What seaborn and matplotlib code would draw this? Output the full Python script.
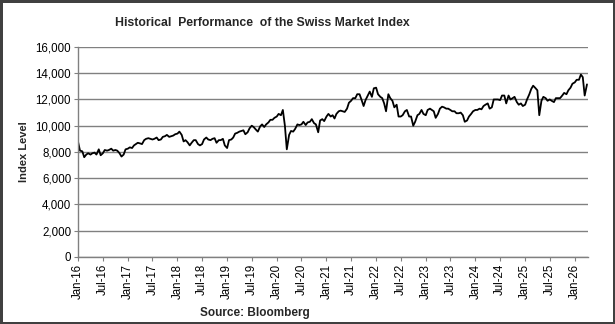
import matplotlib
matplotlib.use("Agg")
import matplotlib.pyplot as plt
import matplotlib.dates as mdates
import matplotlib.ticker as mticker
import pandas as pd
import seaborn as sns

# ---- data (semi-monthly readings, approximate) ----
values_2016 = [8750, 8100, 8050, 7600, 7800, 7900, 7800, 7900, 7950, 7800, 8200, 7750,
               7900, 8150, 8100, 8150, 8250, 8100, 8150, 8100, 7900, 7650, 7800, 8200]
values_2017 = [8250, 8350, 8300, 8500, 8600, 8700, 8650, 8600, 8900, 9000, 9050, 9000,
               8950, 9000, 9100, 8900, 8950, 9150, 9200, 9300, 9150, 9200, 9250, 9350]
values_2018 = [9400, 9550, 9300, 8800, 8900, 8750, 8500, 8700, 8900, 8900, 8600, 8500,
               8600, 8950, 9100, 8950, 8900, 9000, 9050, 8700, 8900, 8900, 9000, 8500]
values_2019 = [8300, 8900, 8950, 9100, 9400, 9450, 9550, 9600, 9650, 9350, 9500, 9800,
               10000, 9900, 9700, 9550, 9950, 10100, 9900, 10100, 10250, 10450, 10450, 10600]
values_2020 = [10700, 10900, 10800, 11200, 10000, 8200, 9300, 9600, 9550, 9750, 10100, 10050,
               10100, 10300, 10050, 10250, 10300, 10500, 10200, 10100, 9500, 10400, 10500, 10350]
values_2021 = [10700, 10900, 10700, 10800, 10550, 10900, 11100, 11150, 11100, 11050, 11300, 11750,
               11900, 12100, 12100, 12400, 12400, 12000, 11500, 11950, 12300, 12600, 12200, 12850]
values_2022 = [12900, 12400, 12200, 12100, 11700, 11100, 12400, 12100, 11900, 11400, 11600, 10700,
               10700, 10800, 11100, 11200, 10700, 10700, 10000, 10300, 10800, 10900, 11200, 10900]
values_2023 = [10800, 11200, 11300, 11200, 11100, 10600, 10900, 11300, 11450, 11400, 11300, 11300,
               11200, 11100, 11100, 10950, 10950, 11000, 10800, 10300, 10400, 10700, 10900, 11100]
values_2024 = [11200, 11200, 11300, 11250, 11500, 11600, 11700, 11300, 11400, 12000, 12000, 12000,
               11950, 12300, 12300, 11700, 12300, 12000, 12100, 12200, 11800, 11600, 11700, 11500]
values_2025 = [11600, 12000, 12400, 12800, 13050, 12900, 12700, 10800, 11900, 12200, 12100, 11900,
               12000, 11900, 11800, 12100, 12100, 12100, 12300, 12500, 12400, 12700, 12900, 13200]
values_2026 = [13300, 13500, 13500, 13900, 13700, 12300, 13150]

years = [2016, 2017, 2018, 2019, 2020, 2021, 2022, 2023, 2024, 2025, 2026]
all_values = (values_2016 + values_2017 + values_2018 + values_2019 + values_2020 +
              values_2021 + values_2022 + values_2023 + values_2024 + values_2025 + values_2026)

dates = []
for y in years:
    for m in range(1, 13):
        for d in (1, 15):
            dates.append(pd.Timestamp(year=y, month=m, day=d))
dates = dates[:len(all_values)]

df = pd.DataFrame({"Date": dates, "Index Level": all_values})

title = "Historical  Performance  of the Swiss Market Index"
source = "Source: Bloomberg"

# ---- style ----
sns.set_style("white")
plt.rcParams["font.family"] = ["Liberation Sans", "DejaVu Sans"]

fig = plt.figure(figsize=(6.15, 3.24), dpi=100, linewidth=2.5, edgecolor="#404040")
ax = fig.add_axes([0.127, 0.207, 0.829, 0.648])

sns.lineplot(data=df, x="Date", y="Index Level", ax=ax, color="black", linewidth=1.3)

ax.set_ylim(0, 16000)
ax.set_xlim(pd.Timestamp("2016-01-01"), pd.Timestamp("2026-04-08"))
ax.yaxis.set_major_locator(mticker.MultipleLocator(2000))
ax.yaxis.set_major_formatter(mticker.FuncFormatter(lambda v, p: f"{v:,.0f}"))
ax.xaxis.set_major_locator(mdates.MonthLocator(bymonth=[1, 7]))
ax.xaxis.set_major_formatter(mdates.DateFormatter("%b-%y"))

ax.grid(axis="y", color="#808080", linewidth=1)
ax.grid(axis="x", visible=False)
for s in ["top", "right"]:
    ax.spines[s].set_visible(False)
for s in ["left", "bottom"]:
    ax.spines[s].set_color("#808080")
    ax.spines[s].set_linewidth(1)

ax.tick_params(axis="both", which="major", direction="out", length=3, width=0.8,
               color="#808080", labelsize=8.3, labelcolor="black", pad=2,
               left=True, bottom=True)
plt.setp(ax.get_xticklabels(), rotation=90)

ax.set_xlabel("")
ax.set_ylabel("Index Level", fontsize=8, fontweight="bold", labelpad=5)

fig.text(0.426, 0.928, title, ha="center", va="center", fontsize=8.8, fontweight="bold")
fig.text(0.415, 0.034, source, ha="center", va="center", fontsize=8.5, fontweight="bold")

fig.savefig("out.png", dpi=100, edgecolor=fig.get_edgecolor())
